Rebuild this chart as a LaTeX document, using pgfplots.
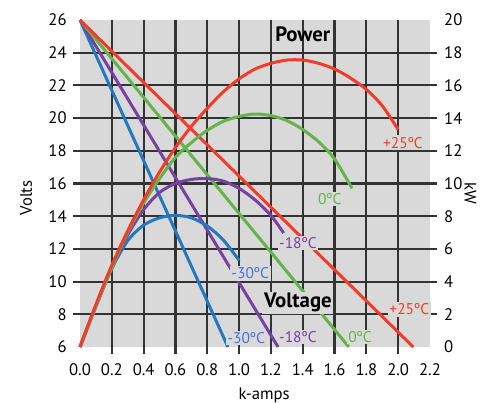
\documentclass[border=0pt]{standalone}
\usepackage{fontspec}
\setmainfont{PT Sans}
\usepackage{pgfplots}
\pgfplotsset{compat=1.18}

\definecolor{bggray}{HTML}{D9D9D9}
\definecolor{gridc}{HTML}{333333}
\definecolor{cred}{HTML}{F03C28}
\definecolor{cgreen}{HTML}{62B44B}
\definecolor{cpurple}{HTML}{7841A0}
\definecolor{cblue}{HTML}{2378BE}
\definecolor{lblue}{HTML}{4374D6}

\begin{document}
\begin{tikzpicture}
% 1 px of the reference = 0.6pt
\useasboundingbox (-48pt,-33pt) rectangle (247.8pt,208.2pt);

% --- left axis: Volts ---
\begin{axis}[
    at={(0,0)}, anchor=south west,
    scale only axis, width=210pt, height=196.2pt,
    xmin=0, xmax=2.2, ymin=6, ymax=26,
    clip=false,
    axis background/.style={fill=bggray},
    axis line style={draw=none},
    xtick={0.2,0.4,0.6,0.8,1.0,1.2,1.4,1.6,1.8,2.0},
    xticklabels={0.2,0.4,0.6,0.8,1.0,1.2,1.4,1.6,1.8,2.0},
    ytick={8,10,12,14,16,18,20,22,24},
    yticklabels={8,10,12,14,16,18,20,22,24},
    xtick pos=bottom, ytick pos=left,
    grid=major,
    major grid style={draw=gridc, line width=1.3pt},
    major tick style={draw=gridc, line width=1.3pt},
    major tick length=4pt,
    tick align=outside,
    extra x ticks={0,2.2},
    extra x tick labels={0.0,2.2},
    extra y ticks={6,26},
    extra y tick labels={6,26},
    extra tick style={grid=none, major tick style={draw=none}},
    tick label style={font=\fontsize{10}{12}\selectfont},
    xticklabel style={yshift=-2.5pt},
    yticklabel style={xshift=-0.5pt},
]
% voltage lines, all from 26 V at 0 A
\addplot[cblue, line width=1.8pt] coordinates {(0,26) (0.93,6)};
\addplot[cpurple, line width=1.8pt] coordinates {(0,26) (1.245,6)};
\addplot[cgreen, line width=1.8pt] coordinates {(0,26) (1.69,6)};
\addplot[cred, line width=1.8pt] coordinates {(0,26) (2.095,6)};
\end{axis}

% --- right axis: kW ---
\begin{axis}[
    at={(0,0)}, anchor=south west,
    scale only axis, width=210pt, height=196.2pt,
    xmin=0, xmax=2.2, ymin=0, ymax=20,
    clip=false,
    axis x line=none,
    axis y line*=right,
    axis line style={draw=none},
    ytick={2,4,6,8,10,12,14,16,18},
    yticklabels={2,4,6,8,10,12,14,16,18},
    major tick style={draw=gridc, line width=1.3pt},
    major tick length=4pt,
    tick align=outside,
    extra y ticks={0,20},
    extra y tick labels={0,20},
    extra tick style={major tick style={draw=none}},
    tick label style={font=\fontsize{10}{12}\selectfont},
    yticklabel style={xshift=1pt},
]
% power curves
\addplot[cblue, line width=1.8pt, smooth] coordinates {
 (0,0) (0.1,2.5) (0.2,4.8) (0.3,6.5) (0.4,7.45) (0.5,7.9) (0.6,8.05)
 (0.7,7.9) (0.8,7.4) (0.9,6.55) (1.0,5.3)};
\addplot[cpurple, line width=1.8pt, smooth] coordinates {
 (0,0) (0.1,2.5) (0.2,4.85) (0.3,6.85) (0.4,8.4) (0.5,9.45) (0.6,10.0)
 (0.7,10.25) (0.8,10.3) (0.9,10.15) (1.0,9.7) (1.1,9.0) (1.2,8.05) (1.28,6.97)};
\addplot[cgreen, line width=1.8pt, smooth] coordinates {
 (0,0) (0.1,2.5) (0.2,4.85) (0.3,7.0) (0.4,8.8) (0.5,10.3) (0.6,11.6)
 (0.7,12.5) (0.8,13.25) (0.9,13.8) (1.0,14.1) (1.1,14.25) (1.2,14.15)
 (1.3,13.85) (1.4,13.3) (1.5,12.55) (1.6,11.5) (1.71,9.7)};
\addplot[cred, line width=1.8pt, smooth] coordinates {
 (0,0) (0.1,2.6) (0.2,5.0) (0.3,7.1) (0.4,9.0) (0.5,10.7) (0.6,12.2)
 (0.7,13.5) (0.8,14.6) (0.9,15.6) (1.0,16.4) (1.1,17.0) (1.2,17.35)
 (1.3,17.55) (1.4,17.55) (1.5,17.35) (1.6,17.0) (1.7,16.45) (1.8,15.75)
 (1.9,14.75) (2.0,13.3)};

% labels
\tikzset{lab/.style={fill=bggray, inner sep=1pt, font=\fontsize{9.3}{11}\selectfont}}
\node[font=\fontsize{12.5}{14}\selectfont\bfseries, inner sep=1pt] at (axis cs:1.40,19.1) {Power};
\node[fill=bggray, font=\fontsize{12.5}{14}\selectfont\bfseries, inner sep=1pt] at (axis cs:1.37,2.7) {Voltage};
\node[lab, text=cred] at (axis cs:2.03,12.5) {+25ºC};
\node[lab, text=cgreen] at (axis cs:1.57,9.05) {0ºC};
\node[lab, text=cpurple] at (axis cs:1.37,6.35) {-18ºC};
\node[lab, text=lblue] at (axis cs:1.07,4.5) {-30ºC};
\node[lab, text=lblue] at (axis cs:1.045,0.55) {-30ºC};
\node[lab, text=cpurple] at (axis cs:1.37,0.6) {-18ºC};
\node[lab, text=cgreen] at (axis cs:1.76,0.6) {0ºC};
\node[lab, text=cred] at (axis cs:2.07,2.3) {+25ºC};

% axis titles
\node[font=\fontsize{10}{12}\selectfont, anchor=north, inner sep=0pt] at (rel axis cs:0.526,-0.125) {k-amps};
\node[font=\fontsize{10}{12}\selectfont, rotate=90] at (rel axis cs:-0.154,0.456) {Volts};
\node[font=\fontsize{10}{12}\selectfont, rotate=-90] at (rel axis cs:1.115,0.471) {kW};
\end{axis}
\end{tikzpicture}
\end{document}
